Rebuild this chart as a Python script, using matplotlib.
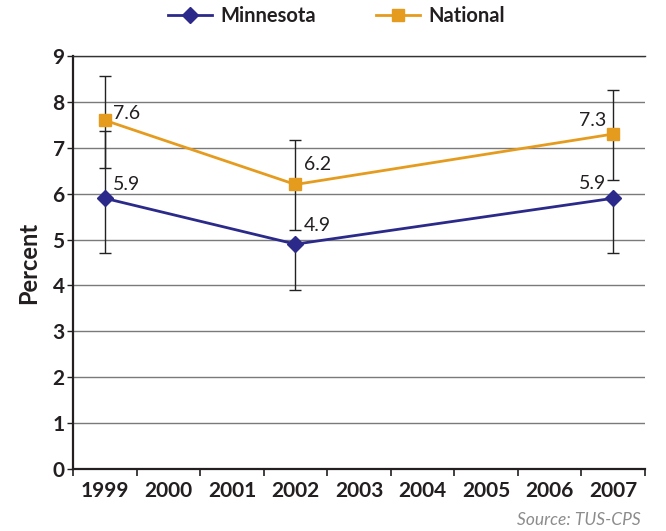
import matplotlib
matplotlib.use("Agg")
import matplotlib.pyplot as plt
import numpy as np

years = ['1999', '2000', '2001', '2002', '2003', '2004', '2005', '2006', '2007']
data_years = ['1999', '2002', '2007']
minnesota = [5.9, 4.9, 5.9]
national = [7.6, 6.2, 7.3]
minnesota_err_low = [1.2, 1.0, 1.2]
minnesota_err_high = [1.46, 0.0, 0.0]
national_err_low = [1.03, 1.0, 1.0]
national_err_high = [0.97, 0.97, 0.97]
minn_labels = ['5.9', '4.9', '5.9']
nat_labels = ['7.6', '6.2', '7.3']
yticks = list(range(0, 10))

MINN_C = '#2B2A8A'
NAT_C = '#E59C1E'
FONT = ['Lato', 'DejaVu Sans']
plt.rcParams['font.family'] = FONT

fig = plt.figure(figsize=(6.66, 5.31), dpi=100)
ax = fig.add_axes([0.1096, 0.1168, 0.8589, 0.7777])

xpos = [years.index(y) for y in data_years]

ax.errorbar(xpos, national, yerr=[national_err_low, national_err_high], fmt='none',
            ecolor='#222222', elinewidth=1.0, capsize=4, capthick=1.0, zorder=2)
ax.errorbar(xpos, minnesota, yerr=[minnesota_err_low, minnesota_err_high], fmt='none',
            ecolor='#222222', elinewidth=1.0, capsize=4, capthick=1.0, zorder=2)

ax.plot(xpos, minnesota, color=MINN_C, lw=2.0, marker='D', ms=8, zorder=4, label='Minnesota')
ax.plot(xpos, national, color=NAT_C, lw=2.0, marker='s', ms=8, zorder=4, label='National')

# data labels (offsets in points)
offs_m = [(6, 4, 'left'), (6, 7, 'left'), (-5, 4.5, 'right')]
offs_n = [(6, -1.5, 'left'), (6, 8, 'left'), (-5, 3.5, 'right')]
for x, v, t, (dx, dy, ha) in zip(xpos, minnesota, minn_labels, offs_m):
    ax.annotate(t, (x, v), xytext=(dx, dy), textcoords='offset points', ha=ha, va='bottom',
                fontsize=14, color='#231F20', zorder=5)
for x, v, t, (dx, dy, ha) in zip(xpos, national, nat_labels, offs_n):
    ax.annotate(t, (x, v), xytext=(dx, dy), textcoords='offset points', ha=ha, va='bottom',
                fontsize=14, color='#231F20', zorder=5)

ax.set_xlim(-0.5, len(years) - 0.5)
ax.set_ylim(0, 9)
ax.set_yticks(yticks)
ax.set_yticklabels([str(t) for t in yticks], fontsize=15, fontweight='bold', color='#231F20')
ax.yaxis.grid(True, color='#7A7A7A', lw=1.0)
ax.set_axisbelow(True)

ax.set_xticks(np.arange(-0.5, len(years), 1.0))
ax.set_xticklabels([])
ax.set_xticks(np.arange(len(years)), minor=True)
ax.set_xticklabels(years, minor=True, fontsize=15, fontweight='bold', color='#231F20')
ax.tick_params(axis='x', which='major', direction='out', length=5, width=1.2, color='#231F20')
ax.tick_params(axis='x', which='minor', length=0, pad=9)
ax.tick_params(axis='y', direction='out', length=4, width=1.0, color='#231F20', pad=2)

for s in ['left', 'bottom']:
    ax.spines[s].set_color('#231F20')
    ax.spines[s].set_linewidth(1.6)
ax.spines['right'].set_visible(False)
ax.spines['top'].set_color('#333333')
ax.spines['top'].set_linewidth(1.0)

ax.set_ylabel('Percent', fontsize=17, fontweight='bold', color='#231F20', labelpad=9)

leg = fig.legend(loc='upper center', bbox_to_anchor=(0.505, 1.022), ncol=2, frameon=False,
                 prop={'family': FONT, 'weight': 'bold', 'size': 14.5}, handlelength=2.2,
                 columnspacing=3.0, handletextpad=0.4)
for t in leg.get_texts():
    t.set_color('#231F20')

fig.text(0.962, 0.006, 'Source: TUS-CPS', ha='right', va='bottom', fontsize=12.5,
         style='italic', color='#8C8C8C')

fig.savefig('out.png', dpi=100)
